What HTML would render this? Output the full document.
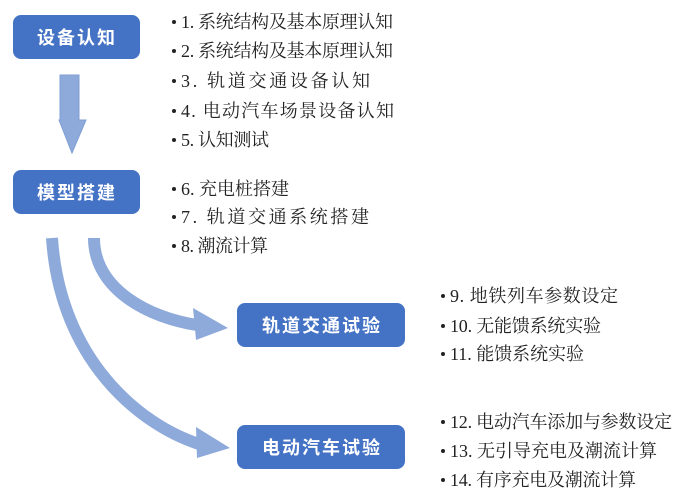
<!DOCTYPE html>
<html><head><meta charset="utf-8"><style>
html,body{margin:0;padding:0;background:#fff;width:680px;height:498px;overflow:hidden}
svg{display:block}
.t{font-family:"Liberation Serif","Noto Serif CJK SC",serif;font-size:18px;fill:#222}
.b{font-family:"Liberation Sans","Noto Sans CJK SC",sans-serif;font-size:18px;font-weight:bold;fill:#fff;letter-spacing:2px}
</style></head><body>
<svg width="680" height="498" viewBox="0 0 680 498">
<rect x="13" y="15" width="127" height="44" rx="8" fill="#4472c4"/>
<text class="b" x="77" y="44" text-anchor="middle">设备认知</text>
<rect x="13" y="170" width="127" height="44" rx="8" fill="#4472c4"/>
<text class="b" x="77" y="199" text-anchor="middle">模型搭建</text>
<rect x="237" y="303" width="168" height="44" rx="8" fill="#4472c4"/>
<text class="b" x="322" y="332" text-anchor="middle">轨道交通试验</text>
<rect x="237" y="425" width="168" height="44" rx="8" fill="#4472c4"/>
<text class="b" x="322" y="454" text-anchor="middle">电动汽车试验</text>

<polygon points="60,75 79,75 79,120 86,120 72,153 59,120 60,120" fill="#8eaadb" stroke="#7f9fd4" stroke-width="1"/>
<path d="M94,238 C94,290 150,318 197,325" fill="none" stroke="#8eaadb" stroke-width="12"/>
<polygon points="193,308 228,328 196,340" fill="#8eaadb"/>
<path d="M52,238 C60,360 140,425 199,444" fill="none" stroke="#8eaadb" stroke-width="12"/>
<polygon points="196,427 230,448 197,458" fill="#8eaadb"/>

<g class="t">
<circle cx="174" cy="22" r="2" fill="#222"/><text x="181" y="28" textLength="212" lengthAdjust="spacing">1. 系统结构及基本原理认知</text>
<circle cx="174" cy="51" r="2" fill="#222"/><text x="181" y="57" textLength="212" lengthAdjust="spacing">2. 系统结构及基本原理认知</text>
<circle cx="174" cy="81" r="2" fill="#222"/><text x="181" y="87" textLength="189" lengthAdjust="spacing">3. 轨道交通设备认知</text>
<circle cx="174" cy="111" r="2" fill="#222"/><text x="181" y="117" textLength="213" lengthAdjust="spacing">4. 电动汽车场景设备认知</text>
<circle cx="174" cy="140" r="2" fill="#222"/><text x="181" y="146" textLength="88" lengthAdjust="spacing">5. 认知测试</text>
<circle cx="174" cy="189" r="2" fill="#222"/><text x="181" y="195" textLength="108" lengthAdjust="spacing">6. 充电桩搭建</text>
<circle cx="174" cy="217" r="2" fill="#222"/><text x="181" y="223" textLength="188" lengthAdjust="spacing">7. 轨道交通系统搭建</text>
<circle cx="174" cy="246" r="2" fill="#222"/><text x="181" y="252" textLength="87" lengthAdjust="spacing">8. 潮流计算</text>
<circle cx="443" cy="296" r="2" fill="#222"/><text x="450" y="302" textLength="168" lengthAdjust="spacing">9.  地铁列车参数设定</text>
<circle cx="443" cy="326" r="2" fill="#222"/><text x="450" y="332" textLength="151" lengthAdjust="spacing">10. 无能馈系统实验</text>
<circle cx="443" cy="354" r="2" fill="#222"/><text x="450" y="360" textLength="134" lengthAdjust="spacing">11. 能馈系统实验</text>
<circle cx="443" cy="422" r="2" fill="#222"/><text x="450" y="428" textLength="222" lengthAdjust="spacing">12. 电动汽车添加与参数设定</text>
<circle cx="443" cy="451" r="2" fill="#222"/><text x="450" y="457" textLength="207" lengthAdjust="spacing">13. 无引导充电及潮流计算</text>
<circle cx="443" cy="480" r="2" fill="#222"/><text x="450" y="486" textLength="186" lengthAdjust="spacing">14. 有序充电及潮流计算</text>
</g>
</svg>
</body></html>
